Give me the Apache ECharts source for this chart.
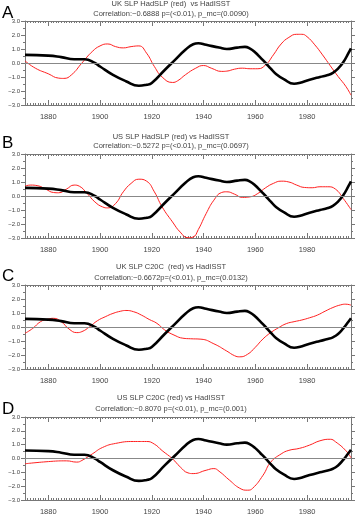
<!DOCTYPE html>
<html><head><meta charset="utf-8">
<script src="https://cdn.jsdelivr.net/npm/echarts@6/dist/echarts.min.js"></script>
<style>html,body{margin:0;padding:0;background:#fff}#c{width:356px;height:516px}</style>
</head><body><div id="c"></div><script>
// ---- data ----
const xTickLabels = [1880, 1900, 1920, 1940, 1960, 1980];
const yTickLabels = [-3, -2, -1, 0, 1, 2, 3];
const letters = ['A', 'B', 'C', 'D'];
const titleLine1 = [
  'UK SLP HadSLP (red)  vs HadISST',
  'US SLP HadSLP (red) vs HadISST',
  'UK SLP C20C  (red) vs HadISST',
  'US SLP C20C (red) vs HadISST'
];
const titleLine2 = [
  'Correlation:\u22120.6888 p=(<0.01), p_mc=(0.0090)',
  'Correlation:\u22120.5272 p=(<0.01), p_mc=(0.0697)',
  'Correlation:\u22120.6672p=(<0.01), p_mc=(0.0132)',
  'Correlation:\u22120.8070 p=(<0.01), p_mc=(0.001)'
];
// HadISST (black) for panels A,B
const sstAB = [[1871,0.58],[1880,0.53],[1885,0.42],[1890,0.27],[1894,0.27],[1898,0.0],[1900,-0.25],[1905,-0.85],[1910,-1.3],[1915,-1.62],[1918,-1.55],[1920,-1.43],[1925,-0.5],[1929,0.22],[1933,0.94],[1936,1.34],[1938,1.41],[1941,1.3],[1946,1.1],[1949,1.0],[1953,1.1],[1956,1.15],[1958,1.02],[1960,0.75],[1962,0.38],[1964,0.0],[1966,-0.4],[1968,-0.78],[1971,-1.15],[1975,-1.48],[1977,-1.43],[1981,-1.2],[1985,-1.0],[1988,-0.86],[1990,-0.7],[1992,-0.4],[1994,0.05],[1996,0.7],[1997,1.05]];
// HadISST (black) for panels C,D
const sstCD = [[1871,0.58],[1880,0.53],[1885,0.42],[1890,0.27],[1894,0.27],[1898,0.0],[1900,-0.25],[1905,-0.85],[1910,-1.3],[1915,-1.62],[1918,-1.55],[1920,-1.43],[1925,-0.5],[1929,0.22],[1933,0.94],[1936,1.34],[1938,1.41],[1941,1.3],[1946,1.1],[1949,1.0],[1953,1.1],[1956,1.15],[1958,1.02],[1960,0.75],[1962,0.38],[1964,0.0],[1966,-0.4],[1968,-0.78],[1971,-1.15],[1975,-1.48],[1977,-1.43],[1981,-1.2],[1985,-1.0],[1988,-0.86],[1990,-0.74],[1992,-0.5],[1994,-0.1],[1996,0.38],[1997,0.62]];
const redA = [[1871,0.15],[1875,-0.37],[1880,-0.77],[1884,-1.08],[1886,-1.1],[1889,-0.84],[1893,0.0],[1897,0.82],[1900,1.22],[1903,1.36],[1906,1.17],[1909,1.08],[1912,1.17],[1915,1.22],[1918,0.7],[1921,-0.25],[1924,-1.0],[1928,-1.39],[1930,-1.27],[1933,-0.84],[1937,-0.37],[1940,-0.18],[1943,-0.37],[1947,-0.6],[1949,-0.58],[1952,-0.44],[1955,-0.37],[1958,-0.41],[1961,-0.41],[1964,-0.13],[1967,0.58],[1970,1.36],[1973,1.83],[1976,2.05],[1978,2.05],[1980,1.88],[1983,1.3],[1986,0.58],[1989,-0.2],[1992,-0.96],[1995,-1.67],[1997,-2.3]];
const redB = [[1871,0.7],[1873,0.78],[1876,0.73],[1879,0.49],[1882,0.25],[1884,0.23],[1887,0.49],[1890,0.78],[1892,0.7],[1895,0.18],[1898,-0.42],[1901,-0.78],[1903,-0.85],[1906,-0.54],[1909,0.3],[1912,0.9],[1915,1.2],[1918,1.06],[1921,0.3],[1924,-0.78],[1928,-1.85],[1931,-2.58],[1934,-2.98],[1936,-2.93],[1938,-2.39],[1941,-1.26],[1944,-0.3],[1947,0.25],[1949,0.3],[1952,0.13],[1955,-0.1],[1958,-0.06],[1961,0.18],[1964,0.59],[1967,0.9],[1970,1.06],[1973,1.0],[1976,0.78],[1979,0.61],[1982,0.59],[1985,0.66],[1988,0.66],[1991,0.49],[1994,-0.18],[1997,-0.97]];
const redC = [[1871,-0.45],[1874,-0.1],[1877,0.38],[1880,0.57],[1882,0.62],[1885,0.38],[1888,-0.14],[1891,-0.4],[1893,-0.33],[1896,0.02],[1899,0.45],[1902,0.73],[1905,0.97],[1908,1.13],[1910,1.18],[1913,1.09],[1916,0.85],[1919,0.54],[1922,0.26],[1925,-0.21],[1929,-0.61],[1932,-0.8],[1935,-0.84],[1939,-0.87],[1944,-1.2],[1949,-1.72],[1952,-2.05],[1954,-2.13],[1957,-1.95],[1960,-1.45],[1963,-0.85],[1966,-0.4],[1969,-0.05],[1972,0.24],[1975,0.38],[1978,0.5],[1981,0.66],[1984,0.85],[1987,1.13],[1990,1.39],[1993,1.58],[1995,1.63],[1997,1.56]];
const redD = [[1871,-0.38],[1881,-0.21],[1887,-0.17],[1891,-0.26],[1893,-0.14],[1897,0.33],[1901,0.8],[1906,1.09],[1913,1.23],[1918,1.23],[1921,1.04],[1924,0.57],[1928,-0.02],[1931,-0.61],[1934,-1.04],[1936,-1.09],[1941,-0.85],[1944,-0.73],[1946,-0.92],[1950,-1.56],[1954,-2.15],[1957,-2.29],[1959,-2.15],[1963,-1.21],[1966,-0.26],[1970,0.33],[1973,0.59],[1977,0.73],[1981,0.97],[1985,1.28],[1989,1.39],[1991,1.21],[1995,0.57],[1997,0.05]];
const blackData = [sstAB, sstAB, sstCD, sstCD];
const redData = [redA, redB, redC, redD];

// ---- layout ----
const panelTops = [21, 154, 285, 417];
const panelHeights = [84, 84, 84, 85];
const title1Y = [4, 137, 267, 398];
const title2Y = [14, 146, 278, 409];
const letterY = [14, 144, 277, 410];
const FONT = 'Liberation Sans, Arial, sans-serif';
const AXC = '#777';
const yearsAll = [];
for (let y = 1871; y <= 1997; y++) yearsAll.push(y);

const grids = [], xAxes = [], yAxes = [], series = [], graphics = [];
for (let i = 0; i < 4; i++) {
  grids.push({left: 25, width: 326, top: panelTops[i], height: panelHeights[i]});
  const base = {type: 'value', gridIndex: i, min: 1871, max: 1997, splitLine: {show: false}};
  xAxes.push(Object.assign({}, base, {
    position: 'bottom',
    axisLine: {show: true, onZero: false, lineStyle: {color: AXC, width: 1}},
    axisTick: {show: true, inside: true, length: 5, customValues: xTickLabels, lineStyle: {color: AXC}},
    axisLabel: {show: true, customValues: xTickLabels, fontSize: 7.5, color: '#444', fontFamily: FONT, margin: 8, formatter: v => String(v)}
  }));
  xAxes.push(Object.assign({}, base, {
    position: 'bottom',
    axisLine: {show: false, onZero: false},
    axisTick: {show: true, inside: true, length: 2, customValues: yearsAll, lineStyle: {color: AXC}},
    axisLabel: {show: false}
  }));
  xAxes.push(Object.assign({}, base, {
    position: 'top',
    axisLine: {show: true, onZero: false, lineStyle: {color: AXC, width: 1}},
    axisTick: {show: true, inside: true, length: 5, customValues: xTickLabels, lineStyle: {color: AXC}},
    axisLabel: {show: false}
  }));
  xAxes.push(Object.assign({}, base, {
    position: 'top',
    axisLine: {show: false, onZero: false},
    axisTick: {show: true, inside: true, length: 2, customValues: yearsAll, lineStyle: {color: AXC}},
    axisLabel: {show: false}
  }));
  const ybase = {type: 'value', gridIndex: i, min: -3, max: 3, interval: 1, splitLine: {show: false}};
  yAxes.push(Object.assign({}, ybase, {
    position: 'left',
    axisLine: {show: true, onZero: false, lineStyle: {color: AXC, width: 1}},
    axisTick: {show: true, inside: false, length: 4, lineStyle: {color: AXC}},
    minorTick: {show: true, splitNumber: 2, length: 2, lineStyle: {color: AXC}},
    axisLabel: {show: true, fontSize: 6, color: '#444', fontFamily: FONT, margin: 5,
      formatter: v => (v < 0 ? '\u2212' : '') + Math.abs(v).toFixed(1)}
  }));
  yAxes.push(Object.assign({}, ybase, {
    position: 'right',
    axisLine: {show: true, onZero: false, lineStyle: {color: AXC, width: 1}},
    axisTick: {show: true, inside: false, length: 4, lineStyle: {color: AXC}},
    minorTick: {show: true, splitNumber: 2, length: 2, lineStyle: {color: AXC}},
    axisLabel: {show: false}
  }));
  series.push({
    type: 'line', xAxisIndex: 4 * i, yAxisIndex: 2 * i, data: redData[i],
    smooth: 0.5, symbol: 'none', z: 2,
    lineStyle: {color: '#ff2020', width: 1},
    markLine: {silent: true, symbol: 'none', label: {show: false},
      lineStyle: {color: '#888', width: 1, type: 'solid'}, data: [{yAxis: 0}]}
  });
  series.push({
    type: 'line', xAxisIndex: 4 * i, yAxisIndex: 2 * i, data: blackData[i],
    smooth: 0.5, symbol: 'none', z: 3,
    lineStyle: {color: '#000', width: 2.6}
  });
  graphics.push({type: 'text', left: 2, top: letterY[i] - 9,
    style: {text: letters[i], font: '17px ' + FONT, fill: '#000'}});
  graphics.push({type: 'text', x: 171, y: title1Y[i],
    style: {text: titleLine1[i], font: '7.5px ' + FONT, fill: '#444', textAlign: 'center', textVerticalAlign: 'middle'}});
  graphics.push({type: 'text', x: 171, y: title2Y[i],
    style: {text: titleLine2[i], font: '7.5px ' + FONT, fill: '#444', textAlign: 'center', textVerticalAlign: 'middle'}});
}

const chart = echarts.init(document.getElementById('c'), null, {renderer: 'canvas'});
chart.setOption({
  animation: false,
  backgroundColor: '#fff',
  grid: grids, xAxis: xAxes, yAxis: yAxes, series: series, graphic: graphics
});
</script></body></html>
